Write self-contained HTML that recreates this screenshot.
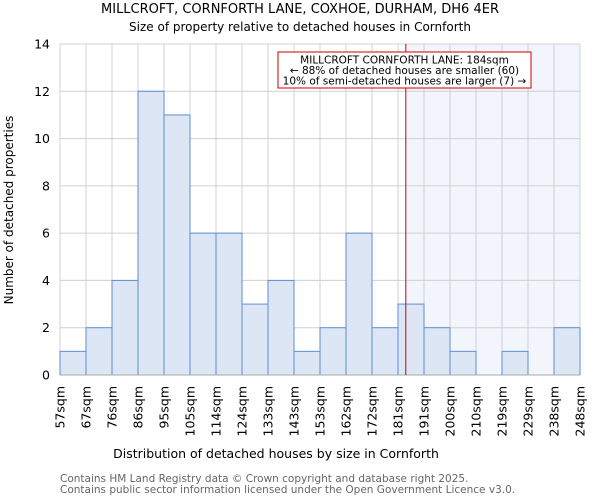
<!DOCTYPE html>
<html><head><meta charset="utf-8"><style>
body{margin:0;background:#fff;font-family:"DejaVu Sans","Liberation Sans",sans-serif}
</style></head><body>
<svg id="c" width="600" height="500" xmlns="http://www.w3.org/2000/svg" font-family="DejaVu Sans, Liberation Sans, sans-serif">
<text x="300" y="13" text-anchor="middle" font-size="13" fill="#000">MILLCROFT, CORNFORTH LANE, COXHOE, DURHAM, DH6 4ER</text>
<text x="300" y="31" text-anchor="middle" font-size="12" fill="#000">Size of property relative to detached houses in Cornforth</text>
<g id="plot"></g>
<text x="276" y="458" text-anchor="middle" font-size="12.5">Distribution of detached houses by size in Cornforth</text>
<text transform="translate(13,210) rotate(-90)" text-anchor="middle" font-size="12">Number of detached properties</text>
<text x="60" y="482" font-size="10.5" fill="#666">Contains HM Land Registry data © Crown copyright and database right 2025.</text>
<text x="60" y="493" font-size="10.5" fill="#666">Contains public sector information licensed under the Open Government Licence v3.0.</text>
</svg>
<script>
const binLabels=["57sqm","67sqm","76sqm","86sqm","95sqm","105sqm","114sqm","124sqm","133sqm","143sqm","153sqm","162sqm","172sqm","181sqm","191sqm","200sqm","210sqm","219sqm","229sqm","238sqm","248sqm"];
const counts=[1,2,4,12,11,6,6,3,4,1,2,6,2,3,2,1,0,1,0,2];
const yTicks=[0,2,4,6,8,10,12,14];
const markerBin=13;
const markerFrac=0.3;
const NS="http://www.w3.org/2000/svg";
const g=document.getElementById('plot');
const X0=60,X1=580,Y0=375,Y1=44,YMAX=14;
const n=counts.length,bw=(X1-X0)/n;
const xs=i=>X0+i*bw;
const ys=v=>Y0-(v/YMAX)*(Y0-Y1);
function mk(t,a){const e=document.createElementNS(NS,t);for(const k in a)e.setAttribute(k,a[k]);g.appendChild(e);return e;}
const mx=xs(markerBin+markerFrac);
let e=mk('rect',{x:mx,y:Y1,width:X1-mx,height:Y0-Y1,fill:'#f3f5fd'});


yTicks.forEach(t=>{
 let l=mk('line',{x1:X0,x2:X1,y1:ys(t),y2:ys(t),stroke:'#d0d0d0','stroke-width':1});
 
 
 let tx=mk('text',{x:X0-10,y:ys(t)+4.5,'text-anchor':'end','font-size':12.5});
 tx.textContent=t;
 
 
});
binLabels.forEach((s,i)=>{
 let l=mk('line',{x1:xs(i),x2:xs(i),y1:Y1,y2:Y0,stroke:'#d0d0d0','stroke-width':1});
 
 
 let tx=mk('text',{transform:`translate(${xs(i)+4.5},386) rotate(-90)`,'text-anchor':'end','font-size':12.5});
 tx.textContent=s;
 
 
});
counts.forEach((v,i)=>{
 if(v<=0)return;
 let r=mk('rect',{x:xs(i),y:ys(v),width:bw,height:Y0-ys(v),fill:'#dde6f4',stroke:'#5b8fd6','stroke-width':1});
 
 
});
let ax=mk('line',{x1:X0,x2:X1,y1:Y0,y2:Y0,stroke:'#aaa'});


let ml=mk('line',{x1:mx,x2:mx,y1:Y1,y2:Y0,stroke:'#cc0000','stroke-width':1});


let bx=mk('rect',{x:278,y:52,width:253,height:36,fill:'#fff',stroke:'#cc0000','stroke-width':1});


["MILLCROFT CORNFORTH LANE: 184sqm","← 88% of detached houses are smaller (60)","10% of semi-detached houses are larger (7) →"].forEach((s,i)=>{
 let t=mk('text',{x:404.5,y:63.5+i*10.5,'text-anchor':'middle','font-size':10.5});
 t.textContent=s;
 
 
});
</script>
</body></html>
